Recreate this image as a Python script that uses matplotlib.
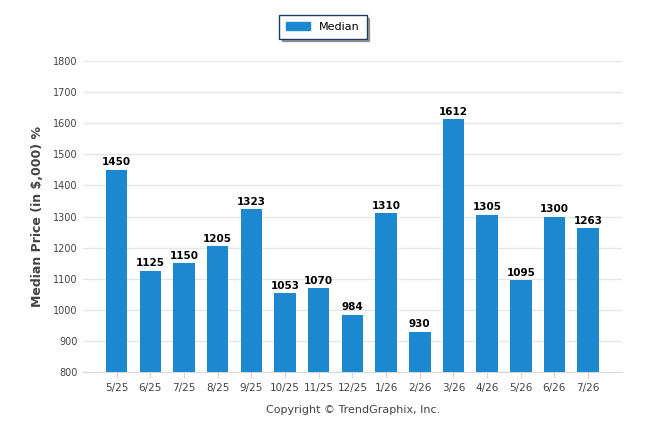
import matplotlib.pyplot as plt
from matplotlib.patches import Patch

months = ['5/25', '6/25', '7/25', '8/25', '9/25', '10/25', '11/25', '12/25',
          '1/26', '2/26', '3/26', '4/26', '5/26', '6/26', '7/26']
median = [1450, 1125, 1150, 1205, 1323, 1053, 1070, 984,
          1310, 930, 1612, 1305, 1095, 1300, 1263]
y_ticks = [800, 900, 1000, 1100, 1200, 1300, 1400, 1500, 1600, 1700, 1800]

bar_color = '#1c88d0'
text_color = '#444444'

plt.rcParams['font.family'] = ['DejaVu Sans']

fig = plt.figure(figsize=(6.46, 4.34), dpi=100)
ax = fig.add_axes([0.1285, 0.1429, 0.834, 0.7165])

x = list(range(len(months)))
ax.bar(x, median, width=0.64, color=bar_color, zorder=3)

for xi, v in zip(x, median):
    ax.text(xi, v + 8, str(v), ha='center', va='bottom', fontsize=7.5,
            fontweight='bold', color='black', zorder=4)

ax.set_xlim(-1, 15)
ax.set_ylim(800, 1800)
ax.set_yticks(y_ticks)
ax.set_yticklabels([str(t) for t in y_ticks], fontsize=7, color=text_color)
ax.set_xticks(x)
ax.set_xticklabels(months, fontsize=7.5, color=text_color)
ax.yaxis.grid(True, color='#e6e6e6', linewidth=1, zorder=0)
ax.tick_params(axis='y', length=0, pad=4)
ax.tick_params(axis='x', length=4, color='#d8d8d8', pad=4)

for side in ['top', 'right', 'left']:
    ax.spines[side].set_visible(False)
ax.spines['bottom'].set_color('#d8d8d8')

ax.set_ylabel('Median Price (in $,000) %', fontsize=9, fontweight='bold',
              color=text_color, labelpad=6)

fig.text(0.546, 0.055, 'Copyright © TrendGraphix, Inc.', ha='center',
         va='center', fontsize=8, color=text_color)

leg = fig.legend(handles=[Patch(color=bar_color, label='Median')],
                 loc='center', bbox_to_anchor=(0.5, 0.938), fontsize=8,
                 frameon=True, fancybox=False, shadow=True,
                 handlelength=2.2, handleheight=0.8, borderpad=0.6)
leg.get_frame().set_edgecolor('#1f3864')
leg.get_frame().set_linewidth(1)

fig.savefig('out.png', dpi=100)
